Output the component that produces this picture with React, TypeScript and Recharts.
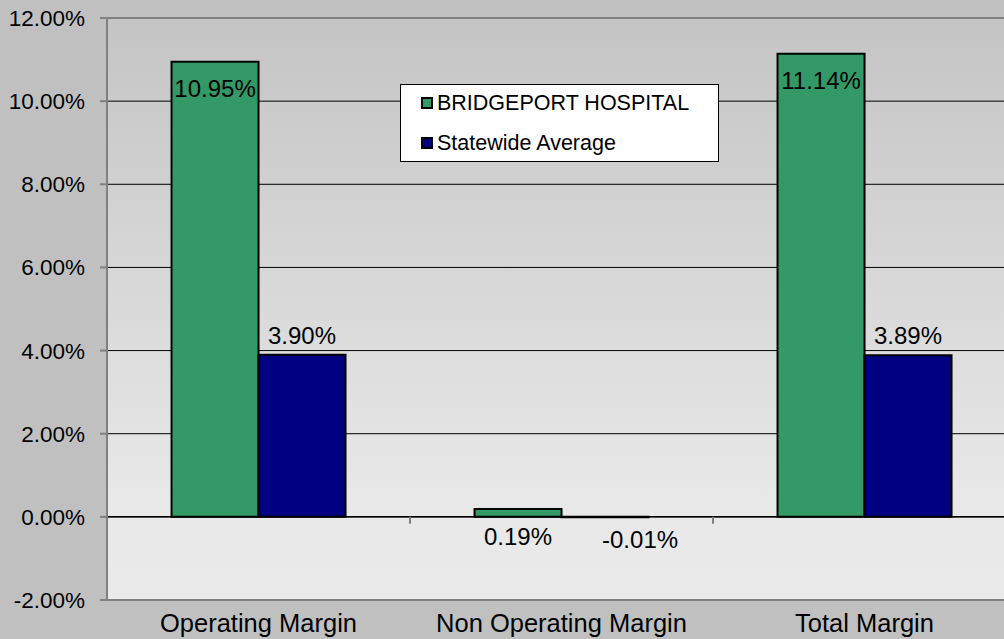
import React from 'react';
import { BarChart, Bar, XAxis, YAxis, CartesianGrid, ReferenceLine } from 'recharts';

const categories = ['Operating Margin', 'Non Operating Margin', 'Total Margin'];
const hospitalValues = [10.95, 0.19, 11.14];
const statewideValues = [3.9, -0.01, 3.89];
const seriesNames = ['BRIDGEPORT HOSPITAL', 'Statewide Average'];
const yTicks = [-2, 0, 2, 4, 6, 8, 10, 12];

const data = categories.map((c, i) => ({
  name: c,
  hospital: hospitalValues[i],
  statewide: statewideValues[i],
}));

const GREEN = '#339966';
const NAVY = '#000080';
const FONT = 'Arial, "Liberation Sans", sans-serif';

const fmt = (v: number) => `${v.toFixed(2)}%`;

const greenLabel = (props: any) => {
  const { x, y, width, height, value } = props;
  const top = Math.min(y, y + height);
  const bottom = Math.max(y, y + height);
  const cx = x + width / 2;
  const ty = value >= 1 ? top + 35 : bottom + 28;
  return (
    <text x={cx} y={ty} textAnchor="middle" fontSize={24} fontFamily={FONT} fill="#000">
      {fmt(value)}
    </text>
  );
};

const navyLabel = (props: any) => {
  const { x, y, width, height, value } = props;
  const top = Math.min(y, y + height);
  const bottom = Math.max(y, y + height);
  const cx = x + width / 2;
  if (value >= 0) {
    return (
      <text x={cx} y={top - 11} textAnchor="middle" fontSize={24} fontFamily={FONT} fill="#000">
        {fmt(value)}
      </text>
    );
  }
  return (
    <text x={cx - 3} y={bottom + 31} textAnchor="start" fontSize={24} fontFamily={FONT} fill="#000">
      {fmt(value)}
    </text>
  );
};

const CategoryTick = (props: any) => {
  const { x, y, payload } = props;
  return (
    <text x={x} y={y + 32} textAnchor="middle" fontSize={25.5} fontFamily={FONT} fill="#000">
      {payload.value}
    </text>
  );
};

const ZeroLine = (props: any) => {
  const { x1, x2, y1 } = props;
  const n = categories.length;
  const ticks = [];
  for (let k = 1; k < n; k++) {
    const tx = x1 + ((x2 - x1) * k) / n;
    ticks.push(<line key={k} x1={tx} x2={tx} y1={y1} y2={y1 + 7} stroke="#808080" strokeWidth={2} />);
  }
  return (
    <g>
      <line x1={x1} x2={x2} y1={y1} y2={y1} stroke="#000" strokeWidth={1.5} />
      {ticks}
    </g>
  );
};

const LegendBox = () => {
  const colors = [GREEN, NAVY];
  return (
    <div
      style={{
        position: 'absolute',
        left: 400,
        top: 84,
        width: 319,
        height: 78,
        background: '#fff',
        border: '1px solid #000',
        boxSizing: 'border-box',
        fontFamily: FONT,
        fontSize: 21.5,
        color: '#000',
      }}
    >
      {seriesNames.map((n, i) => (
        <div
          key={n}
          style={{ position: 'absolute', left: 20, top: 6 + i * 40, height: 24, display: 'flex', alignItems: 'center', whiteSpace: 'nowrap' }}
        >
          <span
            style={{
              display: 'inline-block',
              width: 12,
              height: 12,
              background: colors[i],
              border: '2px solid #000',
              boxSizing: 'border-box',
              marginRight: 4,
            }}
          />
          <span style={{ lineHeight: '24px' }}>{n}</span>
        </div>
      ))}
    </div>
  );
};

export default function App() {
  return (
    <div style={{ position: 'absolute', left: 0, top: 0, width: 1004, height: 639, overflow: 'hidden', background: '#c0c0c0' }}>
      <svg width={0} height={0} style={{ position: 'absolute' }}>
        <defs>
          <linearGradient id="plotGrad" x1="0" y1="0" x2="0" y2="1">
            <stop offset="0%" stopColor="#c4c4c4" />
            <stop offset="82%" stopColor="#e8e8e8" />
            <stop offset="100%" stopColor="#eaeaea" />
          </linearGradient>
        </defs>
      </svg>
      <BarChart
        width={1020}
        height={639}
        data={data}
        margin={{ top: 18, right: 4, bottom: 0, left: 0 }}
        barCategoryGap="21.3%"
        barGap={0}
      >
        <CartesianGrid vertical={false} stroke="#000" strokeWidth={1} fill="url(#plotGrad)" fillOpacity={1} />
        <XAxis
          dataKey="name"
          height={39}
          tickLine={false}
          tickSize={0}
          tickMargin={0}
          axisLine={{ stroke: '#808080', strokeWidth: 2 }}
          tick={<CategoryTick />}
          interval={0}
        />
        <YAxis
          width={107}
          domain={[-2, 12]}
          ticks={yTicks}
          interval={0}
          tickFormatter={fmt}
          tickSize={7}
          tickMargin={15}
          tickLine={{ stroke: '#808080', strokeWidth: 2 }}
          axisLine={{ stroke: '#808080', strokeWidth: 2 }}
          tick={{ fontSize: 22.5, fontFamily: FONT, fill: '#000' }}
        />
        <ReferenceLine y={12} stroke="#808080" strokeWidth={2} />
        <ReferenceLine y={0} shape={<ZeroLine />} />
        <Bar
          dataKey="hospital"
          name={seriesNames[0]}
          fill={GREEN}
          stroke="#000"
          strokeWidth={2}
          isAnimationActive={false}
          label={greenLabel}
        />
        <Bar
          dataKey="statewide"
          name={seriesNames[1]}
          fill={NAVY}
          stroke="#000"
          strokeWidth={2}
          isAnimationActive={false}
          label={navyLabel}
        />
      </BarChart>
      <LegendBox />
    </div>
  );
}
